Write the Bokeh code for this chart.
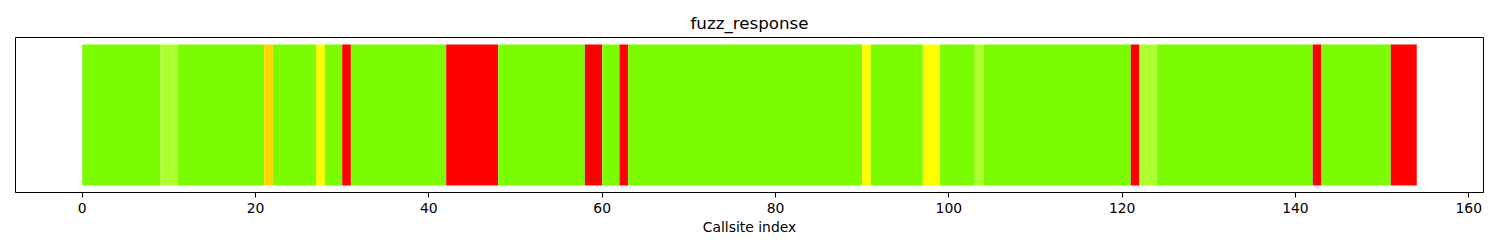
from bokeh.plotting import figure
from bokeh.models import Range1d, ColumnDataSource, FixedTicker
from bokeh.embed import file_html
from bokeh.resources import INLINE

# Response per callsite, stored as runs of identical colour along the index
run_colors = ["lawngreen", "greenyellow", "lawngreen", "gold", "lawngreen", "yellow",
              "lawngreen", "red", "lawngreen", "red", "lawngreen", "red", "lawngreen",
              "red", "lawngreen", "yellow", "lawngreen", "yellow", "lawngreen",
              "greenyellow", "lawngreen", "red", "greenyellow", "lawngreen", "red",
              "lawngreen", "red"]
run_lengths = [9, 2, 10, 1, 5, 1, 2, 1, 11, 6, 10, 2, 2, 1, 27, 1, 6, 2, 4, 1, 17, 1, 2,
               18, 1, 8, 3]
x_ticks = [0, 20, 40, 60, 80, 100, 120, 140, 160]

starts, ends = [], []
pos = 0
for n in run_lengths:
    starts.append(pos)
    pos += n
    ends.append(pos)
n_total = pos

src = ColumnDataSource(dict(
    left=starts,
    right=ends,
    bottom=[0] * len(starts),
    top=[1] * len(starts),
    color=run_colors,
))

pad = 0.05 * n_total
p = figure(width=1500, height=250, output_backend="svg", toolbar_location=None,
           x_range=Range1d(-pad, n_total + pad), y_range=Range1d(-0.05, 1.05),
           title="fuzz_response",
           min_border_left=15, min_border_right=17, min_border_top=37, min_border_bottom=58)

p.quad(left="left", right="right", bottom="bottom", top="top", source=src,
       fill_color="color", line_color=None)

p.title.align = "center"
p.title.text_font = "DejaVu Sans"
p.title.text_font_size = "16.7px"
p.title.text_font_style = "normal"
p.title.text_color = "black"

p.yaxis.visible = False
p.xgrid.visible = False
p.ygrid.visible = False
p.outline_line_color = "black"
p.outline_line_width = 1
p.outline_line_alpha = 1

ax = p.xaxis[0]
ax.ticker = FixedTicker(ticks=x_ticks)
ax.minor_tick_line_color = None
ax.major_tick_in = 0
ax.major_tick_out = 5
ax.major_tick_line_color = "black"
ax.axis_line_color = "black"
ax.major_label_text_font = "DejaVu Sans"
ax.major_label_text_font_size = "13.9px"
ax.major_label_text_color = "black"
ax.major_label_standoff = 5
ax.axis_label = "Callsite index"
ax.axis_label_text_font = "DejaVu Sans"
ax.axis_label_text_font_size = "13.9px"
ax.axis_label_text_font_style = "normal"
ax.axis_label_text_color = "black"
ax.axis_label_standoff = 3

p.background_fill_color = "white"
p.border_fill_color = "white"

open("out.html", "w").write(file_html(p, INLINE))
